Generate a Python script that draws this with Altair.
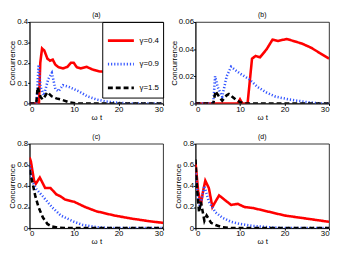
import altair as alt
import pandas as pd

names = ["γ=0.4", "γ=0.9", "γ=1.5"]

# Panel (a)
a_t_red = [0, 2.1, 2.4, 2.8, 3.3, 4.0, 4.6, 5.2, 5.8, 6.5, 7.5, 8.5, 9.3, 9.9, 10.6, 11.5, 12.8, 14.0, 15.5, 17.0, 19.0, 21.0, 23.0, 25.0, 27.0, 30.0]
a_c_red = [0, 0, 0.2, 0.27, 0.26, 0.22, 0.21, 0.215, 0.19, 0.178, 0.172, 0.18, 0.2, 0.2, 0.178, 0.172, 0.18, 0.168, 0.158, 0.155, 0.142, 0.13, 0.118, 0.105, 0.095, 0.075]
a_t_blue = [0, 1.6, 2.0, 2.5, 3.2, 4.2, 5.0, 5.8, 6.5, 7.5, 9.0, 11.0, 13.0, 15.0, 17.0, 20.0, 23.0, 30.0]
a_c_blue = [0, 0, 0.19, 0.08, 0.04, 0.12, 0.15, 0.07, 0.06, 0.09, 0.08, 0.06, 0.035, 0.02, 0.01, 0.003, 0, 0]
a_t_black = [0, 1.5, 1.8, 2.5, 3.0, 4.0, 5.0, 6.0, 7.0, 9.0, 10.5, 30.0]
a_c_black = [0, 0, 0.08, 0.03, 0.02, 0.055, 0.035, 0.025, 0.02, 0.005, 0, 0]

# Panel (b)
b_t_red = [0, 9.5, 10.0, 10.5, 11.7, 12.7, 13.5, 14.5, 16.0, 17.3, 18.5, 20.5, 22.0, 24.0, 26.0, 28.0, 30.0]
b_c_red = [0, 0, 0.003, 0, 0, 0.033, 0.035, 0.034, 0.04, 0.047, 0.046, 0.0475, 0.046, 0.044, 0.041, 0.037, 0.033]
b_t_blue = [0, 4.0, 4.4, 5.0, 6.0, 7.0, 8.0, 10.0, 12.0, 14.0, 16.0, 18.0, 21.0, 25.0, 28.0, 30.0]
b_c_blue = [0, 0, 0.02, 0.012, 0.005, 0.02, 0.027, 0.022, 0.018, 0.012, 0.008, 0.005, 0.003, 0.001, 0, 0]
b_t_black = [0, 4.0, 4.5, 5.5, 6.0, 7.0, 7.5, 9.0, 10.0, 11.0, 30.0]
b_c_black = [0, 0, 0.009, 0.004, 0.002, 0.006, 0.007, 0.003, 0.001, 0, 0]

# Panel (c)
c_t_red = [0, 0.3, 1.0, 1.4, 2.3, 3.5, 4.7, 6.0, 7.0, 8.0, 10.0, 12.5, 15.0, 19.0, 23.0, 27.0, 30.0]
c_c_red = [0.67, 0.63, 0.45, 0.42, 0.48, 0.38, 0.38, 0.32, 0.3, 0.27, 0.25, 0.2, 0.16, 0.12, 0.09, 0.065, 0.05]
c_t_blue = [0, 0.5, 1.5, 3.0, 5.0, 7.0, 10.0, 12.0, 15.0, 18.0, 30.0]
c_c_blue = [0.6, 0.45, 0.37, 0.3, 0.2, 0.12, 0.06, 0.03, 0.01, 0, 0]
c_t_black = [0, 0.8, 1.3, 2.0, 3.0, 4.0, 5.0, 6.5, 8.0, 30.0]
c_c_black = [0.55, 0.4, 0.3, 0.2, 0.1, 0.04, 0.015, 0.005, 0, 0]

# Panel (d)
d_t_red = [0, 0.6, 1.2, 1.7, 2.2, 3.0, 3.8, 4.6, 5.3, 6.5, 8.0, 9.5, 11.0, 13.0, 16.0, 20.0, 25.0, 30.0]
d_c_red = [0.62, 0.35, 0.22, 0.35, 0.45, 0.38, 0.2, 0.26, 0.31, 0.27, 0.22, 0.23, 0.2, 0.19, 0.16, 0.12, 0.09, 0.06]
d_t_blue = [0, 0.5, 1.0, 2.0, 3.0, 4.5, 6.0, 8.0, 10.0, 13.0, 16.0, 20.0, 30.0]
d_c_blue = [0.55, 0.3, 0.2, 0.4, 0.25, 0.15, 0.1, 0.06, 0.04, 0.02, 0.01, 0, 0]
d_t_black = [0, 0.3, 0.8, 1.2, 2.0, 2.5, 3.5, 4.5, 6.0, 8.0, 30.0]
d_c_black = [0.65, 0.4, 0.15, 0.25, 0.07, 0.12, 0.05, 0.03, 0.01, 0, 0]


def frame(series):
    rows = []
    for name, ts, cs in series:
        for t, c in zip(ts, cs):
            rows.append({"t": t, "c": c, "g": name})
    return pd.DataFrame(rows)


def panel(df, title, ymax, ystep, fmt, legend, h):
    yvals = [round(i * ystep, 4) for i in range(int(round(ymax / ystep)) + 1)]
    leg = None
    if legend:
        leg = alt.Legend(title=None, orient="top-right", offset=0, padding=4,
                         strokeColor="black", fillColor="white", symbolType="stroke",
                         symbolSize=700, symbolStrokeWidth=2.8, labelFontSize=8,
                         labelFont="Liberation Sans", rowPadding=3, cornerRadius=0)
    return alt.Chart(df).mark_line(strokeWidth=2.6, clip=True).encode(
        x=alt.X("t:Q", scale=alt.Scale(domain=[0, 30], nice=False),
                axis=alt.Axis(values=[0, 10, 20, 30], title="ω t")),
        y=alt.Y("c:Q", scale=alt.Scale(domain=[0, ymax], nice=False),
                axis=alt.Axis(values=yvals, title="Concurrence",
                              labelExpr="datum.value == 0 ? '0' : format(datum.value, '" + fmt + "')")),
        color=alt.Color("g:N", scale=alt.Scale(domain=names, range=["#ff0000", "#3355ff", "#000000"]), legend=leg),
        strokeDash=alt.StrokeDash("g:N", scale=alt.Scale(domain=names, range=[[1, 0], [1.2, 2], [5, 3]]), legend=leg),
    ).properties(width=136, height=h,
                 title=alt.Title(title, fontSize=7, fontWeight="normal", offset=0,
                                 font="Liberation Sans"))


dfa = frame([(names[0], a_t_red, a_c_red), (names[1], a_t_blue, a_c_blue), (names[2], a_t_black, a_c_black)])
dfb = frame([(names[0], b_t_red, b_c_red), (names[1], b_t_blue, b_c_blue), (names[2], b_t_black, b_c_black)])
dfc = frame([(names[0], c_t_red, c_c_red), (names[1], c_t_blue, c_c_blue), (names[2], c_t_black, c_c_black)])
dfd = frame([(names[0], d_t_red, d_c_red), (names[1], d_t_blue, d_c_blue), (names[2], d_t_black, d_c_black)])

pa = panel(dfa, "(a)", 0.4, 0.1, ".1f", True, 83)
pb = panel(dfb, "(b)", 0.06, 0.02, ".2f", False, 83)
pc = panel(dfc, "(c)", 0.8, 0.2, ".1f", False, 86)
pd_ = panel(dfd, "(d)", 0.8, 0.2, ".1f", False, 86)

col1 = alt.vconcat(pa, pc, spacing=10).resolve_scale(color="independent", strokeDash="independent")
col2 = alt.vconcat(pb, pd_, spacing=10).resolve_scale(color="independent", strokeDash="independent")

chart = alt.hconcat(col1, col2, spacing=6).resolve_scale(
    color="independent", strokeDash="independent"
).configure(padding=0, font="Liberation Sans").configure_view(
    stroke="black", strokeWidth=0.8
).configure_axis(
    grid=False, domainColor="black", domainWidth=0.8, ticks=True, tickSize=2, tickColor="black",
    labelFontSize=8, titleFontSize=8, labelPadding=0, titlePadding=0,
    labelColor="black", titleColor="black", titleFontWeight="normal", labelFont="Liberation Sans",
    titleFont="Liberation Sans"
)

chart.save("out.html", embed_options={"renderer": "svg", "actions": False})
